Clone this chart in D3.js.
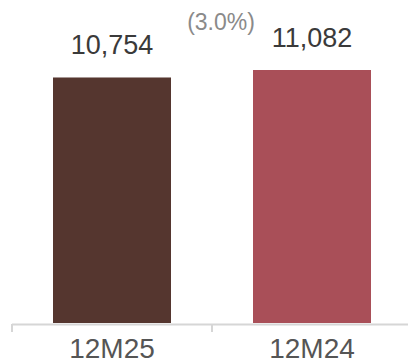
<!DOCTYPE html>
<html>
<head>
  <meta charset="utf-8">
  <title>12M25 vs 12M24</title>
  <style>
    body { margin: 0; background: #fff; }
    text { font-family: "Liberation Sans", Arial, sans-serif; }
  </style>
</head>
<body>
  <script src="https://cdn.jsdelivr.net/npm/d3@7"></script>
  <script>
    // data
    var categories = ["12M25", "12M24"];
    var values = [10754, 11082];
    var colors = ["#55362f", "#a94f58"];
    var changeLabel = "(3.0%)";

    var width = 408, height = 362;

    var svg = d3.select("body")
      .append("svg")
      .attr("width", width)
      .attr("height", height);

    // scales
    var x = d3.scaleBand()
      .domain(categories)
      .range([12, 412])
      .paddingInner(0.41)
      .paddingOuter(0.205);

    var y = d3.scaleLinear()
      .domain([0, 11082])
      .range([323, 70]);

    // bars
    svg.selectAll("rect.bar")
      .data(values)
      .enter()
      .append("rect")
      .attr("class", "bar")
      .attr("x", function(d, i) { return x(categories[i]); })
      .attr("y", function(d) { return y(d); })
      .attr("width", x.bandwidth())
      .attr("height", function(d) { return y(0) - y(d); })
      .attr("fill", function(d, i) { return colors[i]; });

    // value labels
    svg.selectAll("text.val")
      .data(values)
      .enter()
      .append("text")
      .attr("class", "val")
      .attr("x", function(d, i) { return x(categories[i]) + x.bandwidth() / 2; })
      .attr("y", function(d) { return y(d) - 23; })
      .attr("text-anchor", "middle")
      .attr("font-size", 27)
      .attr("fill", "#3a3a3a")
      .text(function(d) { return d3.format(",")(d); });

    // change label
    svg.append("text")
      .attr("x", 221)
      .attr("y", 30)
      .attr("text-anchor", "middle")
      .attr("font-size", 23)
      .attr("fill", "#8a8a8a")
      .text(changeLabel);

    // x axis
    var xAxis = d3.axisBottom(x).tickSize(0).tickPadding(14);
    var gx = svg.append("g")
      .attr("transform", "translate(0," + 324 + ")")
      .call(xAxis);
    gx.select(".domain").remove();
    gx.append("line")
      .attr("x1", 12).attr("x2", width)
      .attr("y1", 0.5).attr("y2", 0.5)
      .attr("stroke", "#d6d6d6")
      .attr("stroke-width", 2);
    gx.selectAll(".sep")
      .data([12, 212])
      .enter()
      .append("line")
      .attr("class", "sep")
      .attr("x1", function(d) { return d; })
      .attr("x2", function(d) { return d; })
      .attr("y1", 0).attr("y2", 8)
      .attr("stroke", "#d6d6d6")
      .attr("stroke-width", 2);
    gx.selectAll(".tick text")
      .attr("font-size", 28)
      .attr("fill", "#555")
      .attr("font-family", "Liberation Sans, Arial, sans-serif");
  </script>
</body>
</html>
